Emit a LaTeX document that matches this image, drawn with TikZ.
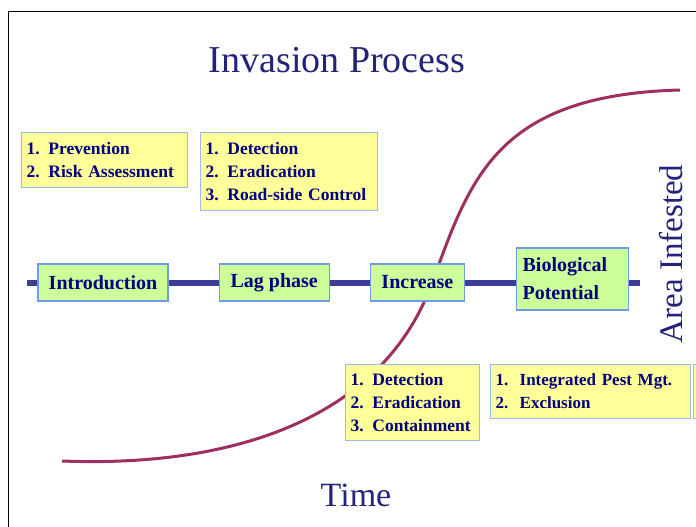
\documentclass[tikz,border=0pt]{standalone}
\usepackage{fontspec}
\setmainfont{Liberation Serif}
\usetikzlibrary{positioning}
\definecolor{phasefill}{HTML}{CCFF99}
\definecolor{phaseedge}{HTML}{6F9BE8}
\definecolor{tipfill}{HTML}{FFFF99}
\definecolor{tipedge}{HTML}{9DB9EE}
\definecolor{boxink}{HTML}{000080}
\definecolor{titleink}{HTML}{23237A}
\definecolor{trackline}{HTML}{3C3C99}
\definecolor{curveline}{HTML}{9E2F5E}
\begin{document}
\begin{tikzpicture}[x=1pt, y=-1pt,
  phase/.style={draw=phaseedge, fill=phasefill, line width=1.2pt, inner sep=0pt,
                minimum height=37pt, text=boxink, font=\fontsize{20}{28}\selectfont\bfseries},
  tipbox/.style={draw=tipedge, fill=tipfill, line width=1.2pt, anchor=north west,
                 inner xsep=5pt, inner ysep=0pt, align=left, text=boxink,
                 font=\fontsize{17.5}{23}\selectfont\bfseries},
  axislabel/.style={text=titleink, font=\fontsize{34}{40}\selectfont},
  track/.style={line width=6pt, trackline},
  growth/.style={line width=3pt, curveline}
]
  \useasboundingbox (0,0) rectangle (696,527);
  % frame
  \draw[line width=1.6pt] (8.5,530) -- (8.5,11.5) -- (700,11.5);
  % labels
  \node[text=titleink, font=\fontsize{38}{44}\selectfont] (title) at (337,60.5) {Invasion Process};
  \node[axislabel] (time) at (356,495) {Time};
  \node[axislabel, font=\fontsize{33}{38}\selectfont, rotate=90] (area) at (671,254) {Area Infested};
  % growth curve
  \draw[growth] (62,461) .. controls (245,468) and (385,412) .. (432,283)
                         .. controls (470,180) and (495,95) .. (680,90);
  % time line
  \coordinate (trackL) at (27,283);
  \coordinate (trackR) at (640,283);
  \draw[track] (trackL) -- (trackR);
  % phases
  \node[phase, minimum width=130pt] (intro) at (103,282.5) {Introduction};
  \node[phase, minimum width=110pt, right=50pt of intro] (lag) {Lag phase};
  \node[phase, minimum width=94pt, right=40pt of lag] (incr) {Increase};
  \node[phase, minimum height=62pt, text width=100pt, inner xsep=6pt, align=left,
        right=51pt of incr, yshift=3.5pt] (bio) {Biological\\Potential};
  % measures
  \node[tipbox, text width=156pt, minimum height=55pt] (prevent) at (21,132) {1. Prevention\\2. Risk Assessment};
  \node[tipbox, text width=167pt, minimum height=78pt] (detect) at (200,132) {1. Detection\\2. Eradication\\3. Road-side Control};
  \node[tipbox, text width=124pt, minimum height=76pt] (contain) at (345,364) {1. Detection\\2. Eradication\\3. Containment};
  \node[tipbox, text width=190pt, minimum height=54pt, font=\fontsize{17}{23}\selectfont\bfseries] (manage) at (490,364) {1.\ \ Integrated Pest Mgt.\\2.\ \ Exclusion};
  \node[tipbox, text width=40pt, minimum height=54pt] (beyond) at (693,364) {};
\end{tikzpicture}
\end{document}
